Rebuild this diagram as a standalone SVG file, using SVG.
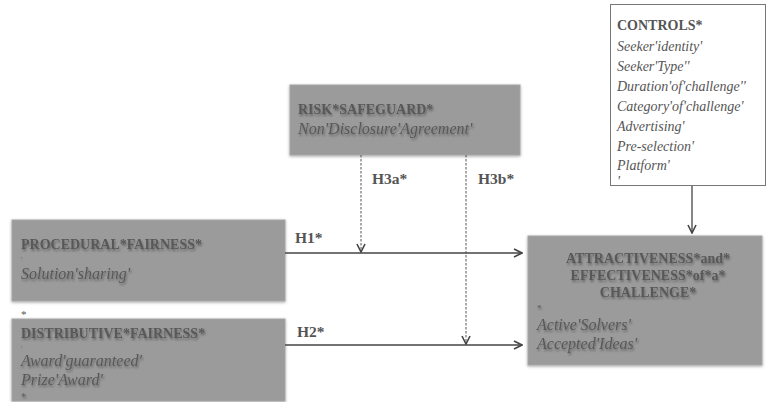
<svg xmlns="http://www.w3.org/2000/svg" width="769" height="402" viewBox="0 0 769 402">
<defs>
<filter id="sh" x="-10%" y="-10%" width="120%" height="130%">
<feGaussianBlur in="SourceAlpha" stdDeviation="1.5"/>
<feOffset dx="0" dy="1" result="b"/>
<feFlood flood-color="#000" flood-opacity="0.35"/>
<feComposite in2="b" operator="in"/>
<feMerge><feMergeNode/><feMergeNode in="SourceGraphic"/></feMerge>
</filter>
<filter id="tsh" x="-5%" y="-30%" width="110%" height="160%">
<feGaussianBlur in="SourceAlpha" stdDeviation="1"/>
<feOffset dx="1" dy="1.5" result="b"/>
<feFlood flood-color="#000" flood-opacity="0.35"/>
<feComposite in2="b" operator="in"/>
<feMerge><feMergeNode/><feMergeNode in="SourceGraphic"/></feMerge>
</filter>
<marker id="arr" viewBox="0 0 10 10" refX="9" refY="5" markerWidth="10" markerHeight="10" markerUnits="userSpaceOnUse" orient="auto">
<path d="M1,1 L9,5 L1,9" fill="none" stroke="#444" stroke-width="1.6"/>
</marker>
</defs>
<style>
.box{fill:#9b9b9b;stroke:#a5a5a5;stroke-width:1}
.t{font-family:"Liberation Serif","DejaVu Serif",serif;fill:#585858}
.b{font-weight:bold;font-size:14px}
.i{font-style:italic;font-size:14px}
.bi{font-style:italic;font-size:16px}
.ctl{font-family:"Liberation Serif","DejaVu Serif",serif;fill:#555}
.lbl{font-family:"Liberation Serif","DejaVu Serif",serif;font-weight:bold;font-size:15.5px;fill:#555}
.ln{stroke:#444;stroke-width:1.3;fill:none}
.dl{stroke:#555;stroke-width:1;stroke-dasharray:2.5,1.5;fill:none}
</style>

<g id="controls">
<rect x="610.5" y="4.5" width="155" height="181" fill="#fff" stroke="#777" stroke-width="1"/>
<text class="ctl b" x="617" y="30">CONTROLS*</text>
<text class="ctl i" x="617" y="51">Seeker'identity'</text>
<text class="ctl i" x="617" y="71">Seeker'Type''</text>
<text class="ctl i" x="617" y="91">Duration'of'challenge''</text>
<text class="ctl i" x="617" y="111">Category'of'challenge'</text>
<text class="ctl i" x="617" y="131">Advertising'</text>
<text class="ctl i" x="617" y="151">Pre‑selection'</text>
<text class="ctl i" x="617" y="170">Platform'</text>
<text class="ctl i" x="617" y="186" font-size="8">'</text>
</g>

<g id="risk" filter="url(#sh)">
<rect class="box" x="290" y="85" width="230" height="70"/>
<g filter="url(#tsh)">
<text class="t b" x="298" y="114">RISK*SAFEGUARD*</text>
<text class="t bi" x="298" y="134">Non'Disclosure'Agreement'</text>
</g>
</g>

<g id="procedural" filter="url(#sh)">
<rect class="box" x="12" y="220" width="273" height="81"/>
<g filter="url(#tsh)">
<text class="t b" x="21" y="249" font-size="14.3">PROCEDURAL*FAIRNESS*</text>
<text class="t" x="21" y="261" font-size="6">'</text>
<text class="t bi" x="21" y="279">Solution'sharing'</text>
</g>
</g>
<text class="ctl" x="21" y="318" font-size="11">*</text>

<g id="distributive" filter="url(#sh)">
<rect class="box" x="12" y="319" width="273" height="82"/>
<g filter="url(#tsh)">
<text class="t b" x="21" y="338" font-size="14.5">DISTRIBUTIVE*FAIRNESS*</text>
<text class="t" x="21" y="350" font-size="6">'</text>
<text class="t bi" x="21" y="366" font-size="15.5">Award'guaranteed'</text>
<text class="t bi" x="21" y="385" font-size="15.5">Prize'Award'</text>
<text class="t" x="21" y="400" font-size="10">*</text>
</g>
</g>

<g id="outcome" filter="url(#sh)">
<rect class="box" x="528" y="236" width="234" height="129"/>
<g filter="url(#tsh)">
<text class="t b" x="648" y="263" text-anchor="middle">ATTRACTIVENESS*and*</text>
<text class="t b" x="648" y="280" text-anchor="middle">EFFECTIVENESS*of*a*</text>
<text class="t b" x="648" y="297" text-anchor="middle">CHALLENGE*</text>
<text class="t" x="537" y="311" font-size="9">*</text>
<text class="t bi" x="537" y="330" font-size="15.5">Active'Solvers'</text>
<text class="t bi" x="537" y="349" font-size="15.5">Accepted'Ideas'</text>
</g>
</g>

<g id="connectors">
<line class="ln" x1="692" y1="186" x2="692" y2="233" marker-end="url(#arr)"/>
<line class="ln" x1="285" y1="253" x2="522" y2="253" marker-end="url(#arr)"/>
<line class="ln" x1="285" y1="345" x2="522" y2="345" marker-end="url(#arr)"/>
<line class="dl" x1="361" y1="155" x2="361" y2="252" marker-end="url(#arr)"/>
<line class="dl" x1="466" y1="155" x2="466" y2="344" marker-end="url(#arr)"/>
<text class="lbl" x="372" y="184">H3a*</text>
<text class="lbl" x="478" y="184">H3b*</text>
<text class="lbl" x="295" y="243">H1*</text>
<text class="lbl" x="297" y="337">H2*</text>
</g>
</svg>
